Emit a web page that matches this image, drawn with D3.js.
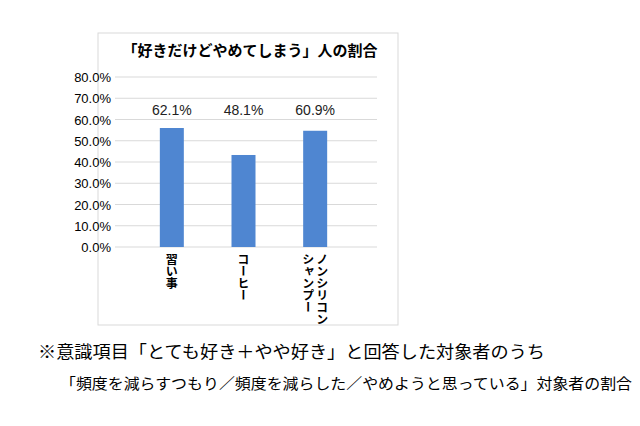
<!DOCTYPE html>
<html><head><meta charset="utf-8">
<script src="https://cdn.jsdelivr.net/npm/d3@7"></script>
<style>body{margin:0;background:#fff;font-family:"Noto Sans CJK JP","Noto Sans",sans-serif;}</style>
</head><body>
<svg id="c" width="640" height="426"></svg>
<script>
// bar heights as drawn in the picture, and the labels printed above them
var categories = ["習い事", "コーヒー", "ノンシリコン\nシャンプー"];
var barValues = [0.56, 0.433, 0.547];
var labels = ["62.1%", "48.1%", "60.9%"];
var ticks = [0, 0.1, 0.2, 0.3, 0.4, 0.5, 0.6, 0.7, 0.8];

var svg = d3.select("#c");
svg.append("rect").attr("x", 98).attr("y", 33).attr("width", 300).attr("height", 292)
  .attr("fill", "none").attr("stroke", "#d9d9d9");

var y = d3.scaleLinear().domain([0, 0.8]).range([247, 77]);
var x = d3.scaleBand().domain(categories).range([136, 351]).paddingInner(0.66).paddingOuter(0.33);

svg.append("text").attr("x", 250).attr("y", 56).attr("text-anchor", "middle")
  .attr("font-size", 15).attr("font-weight", "bold").text("「好きだけどやめてしまう」人の割合");

svg.selectAll(".grid").data(ticks).join("line")
  .attr("x1", 115).attr("x2", 377).attr("y1", d => y(d)).attr("y2", d => y(d))
  .attr("stroke", "#d9d9d9");

svg.selectAll(".tl").data(ticks).join("text")
  .attr("x", 111).attr("y", d => y(d) + 5).attr("text-anchor", "end")
  .attr("font-size", 13).attr("font-family", "Liberation Sans, Arial, sans-serif")
  .text(d3.format(".1%"));

svg.selectAll(".bar").data(barValues).join("rect")
  .attr("x", (d, i) => x(categories[i]) + x.bandwidth() / 2 - 12)
  .attr("width", 24)
  .attr("y", d => y(d)).attr("height", d => y(0) - y(d))
  .attr("fill", "#4f86d1");

svg.selectAll(".vl").data(labels).join("text")
  .attr("x", (d, i) => x(categories[i]) + x.bandwidth() / 2)
  .attr("y", 115).attr("text-anchor", "middle")
  .attr("font-size", 14).attr("fill", "#222").attr("font-family", "Liberation Sans, Arial, sans-serif")
  .text(d => d);

categories.forEach(function (c, i) {
  var lines = c.split("\n");
  var cx = x(c) + x.bandwidth() / 2;
  lines.forEach(function (l, j) {
    svg.append("text")
      .attr("x", cx + (lines.length - 1) * 7 - j * 14).attr("y", 253)
      .attr("font-size", 12).attr("font-weight", "bold")
      .style("writing-mode", "vertical-rl")
      .text(l);
  });
});

svg.append("text").attr("x", 38).attr("y", 358).attr("font-size", 17)
  .attr("textLength", 507).attr("lengthAdjust", "spacingAndGlyphs")
  .text("※意識項目「とても好き＋やや好き」と回答した対象者のうち");
svg.append("text").attr("x", 60).attr("y", 389).attr("font-size", 15)
  .attr("textLength", 572).attr("lengthAdjust", "spacingAndGlyphs")
  .text("「頻度を減らすつもり／頻度を減らした／やめようと思っている」対象者の割合");
</script>
</body></html>
